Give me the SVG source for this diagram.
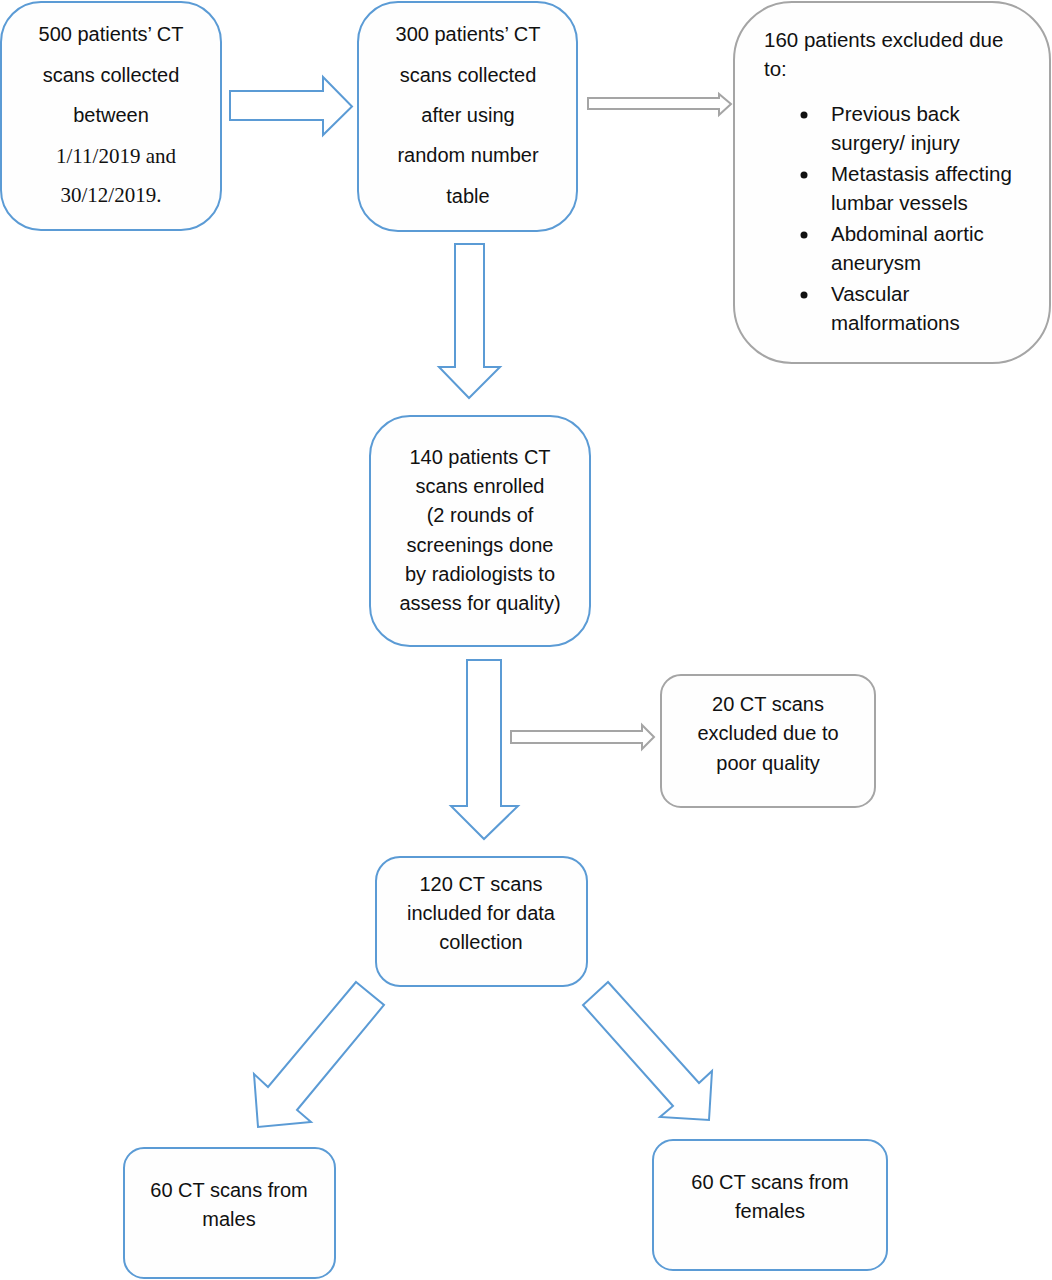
<svg xmlns="http://www.w3.org/2000/svg" width="1052" height="1280" viewBox="0 0 1052 1280">
<style>
.bx{fill:#fefefe;stroke:#5b9bd5;stroke-width:2}
.gb{fill:#fefefe;stroke:#a5a5a5;stroke-width:2}
.ba{fill:#ffffff;stroke:#5b9bd5;stroke-width:2;stroke-linejoin:miter}
.ga{fill:#ffffff;stroke:#a5a5a5;stroke-width:2}
text{font-family:"Liberation Sans",Arial,sans-serif;font-size:20px;fill:#111}
.c{text-anchor:middle}
.w{font-size:20.5px}
.t{font-family:"Liberation Serif","Times New Roman",serif;font-size:21px}
</style>
<rect width="1052" height="1280" fill="#ffffff"/>
<g id="connectors">
<polygon class="ba" points="230,91 323,91 323,77 352,106.5 323,135 323,120 230,120"/>
<polygon class="ga" points="588,98 719,98 719,94 731,104 719,115 719,109 588,109"/>
<polygon class="ba" points="455,244 484,244 484,367 500,367 469,398 439,367 455,367"/>
<polygon class="ba" points="467,660 501,660 501,806 518,806 484,839 451,806 467,806"/>
<polygon class="ga" points="511,731 642,731 642,725 654,737 642,749 642,743 511,743"/>
<polygon class="ba" points="356,982 384,1005 297,1110 311,1122 258,1127 254,1074 268,1087"/>
<polygon class="ba" points="608,982 583,1005 673,1106 660,1117 709,1120 712,1071 699,1083"/>
</g>
<g id="n1">
<rect class="bx" x="1" y="2" width="220" height="228" rx="40"/>
<text class="c" x="111" y="41">500 patients’ CT</text>
<text class="c" x="111" y="82">scans collected</text>
<text class="c" x="111" y="122">between</text>
<text class="c t" x="116" y="163">1/11/2019 and</text>
<text class="c t" x="111" y="202">30/12/2019.</text>
</g>
<g id="n2">
<rect class="bx" x="358" y="2" width="219" height="229" rx="40"/>
<text class="c" x="468" y="41">300 patients’ CT</text>
<text class="c" x="468" y="82">scans collected</text>
<text class="c" x="468" y="122">after using</text>
<text class="c" x="468" y="162">random number</text>
<text class="c" x="468" y="203">table</text>
</g>
<g id="n3">
<rect class="gb" x="734" y="2" width="316" height="361" rx="58"/>
<text class="w" x="764" y="47">160 patients excluded due</text>
<text class="w" x="764" y="76">to:</text>
<circle cx="804" cy="115" r="3.5" fill="#111"/>
<circle cx="804" cy="175" r="3.5" fill="#111"/>
<circle cx="804" cy="235" r="3.5" fill="#111"/>
<circle cx="804" cy="295" r="3.5" fill="#111"/>
<text class="w" x="831" y="121">Previous back</text>
<text class="w" x="831" y="150">surgery/ injury</text>
<text class="w" x="831" y="181">Metastasis affecting</text>
<text class="w" x="831" y="210">lumbar vessels</text>
<text class="w" x="831" y="241">Abdominal aortic</text>
<text class="w" x="831" y="270">aneurysm</text>
<text class="w" x="831" y="301">Vascular</text>
<text class="w" x="831" y="330">malformations</text>
</g>
<g id="n4">
<rect class="bx" x="370" y="416" width="220" height="230" rx="40"/>
<text class="c" x="480" y="464">140 patients CT</text>
<text class="c" x="480" y="493">scans enrolled</text>
<text class="c" x="480" y="522">(2 rounds of</text>
<text class="c" x="480" y="552">screenings done</text>
<text class="c" x="480" y="581">by radiologists to</text>
<text class="c" x="480" y="610">assess for quality)</text>
</g>
<g id="n5">
<rect class="gb" x="661" y="675" width="214" height="132" rx="20"/>
<text class="c" x="768" y="711">20 CT scans</text>
<text class="c" x="768" y="740">excluded due to</text>
<text class="c" x="768" y="770">poor quality</text>
</g>
<g id="n6">
<rect class="bx" x="376" y="857" width="211" height="129" rx="24"/>
<text class="c" x="481" y="891">120 CT scans</text>
<text class="c" x="481" y="920">included for data</text>
<text class="c" x="481" y="949">collection</text>
</g>
<g id="n7">
<rect class="bx" x="124" y="1148" width="211" height="130" rx="20"/>
<text class="c" x="229" y="1197">60 CT scans from</text>
<text class="c" x="229" y="1226">males</text>
</g>
<g id="n8">
<rect class="bx" x="653" y="1140" width="234" height="130" rx="20"/>
<text class="c" x="770" y="1189">60 CT scans from</text>
<text class="c" x="770" y="1218">females</text>
</g>
</svg>
